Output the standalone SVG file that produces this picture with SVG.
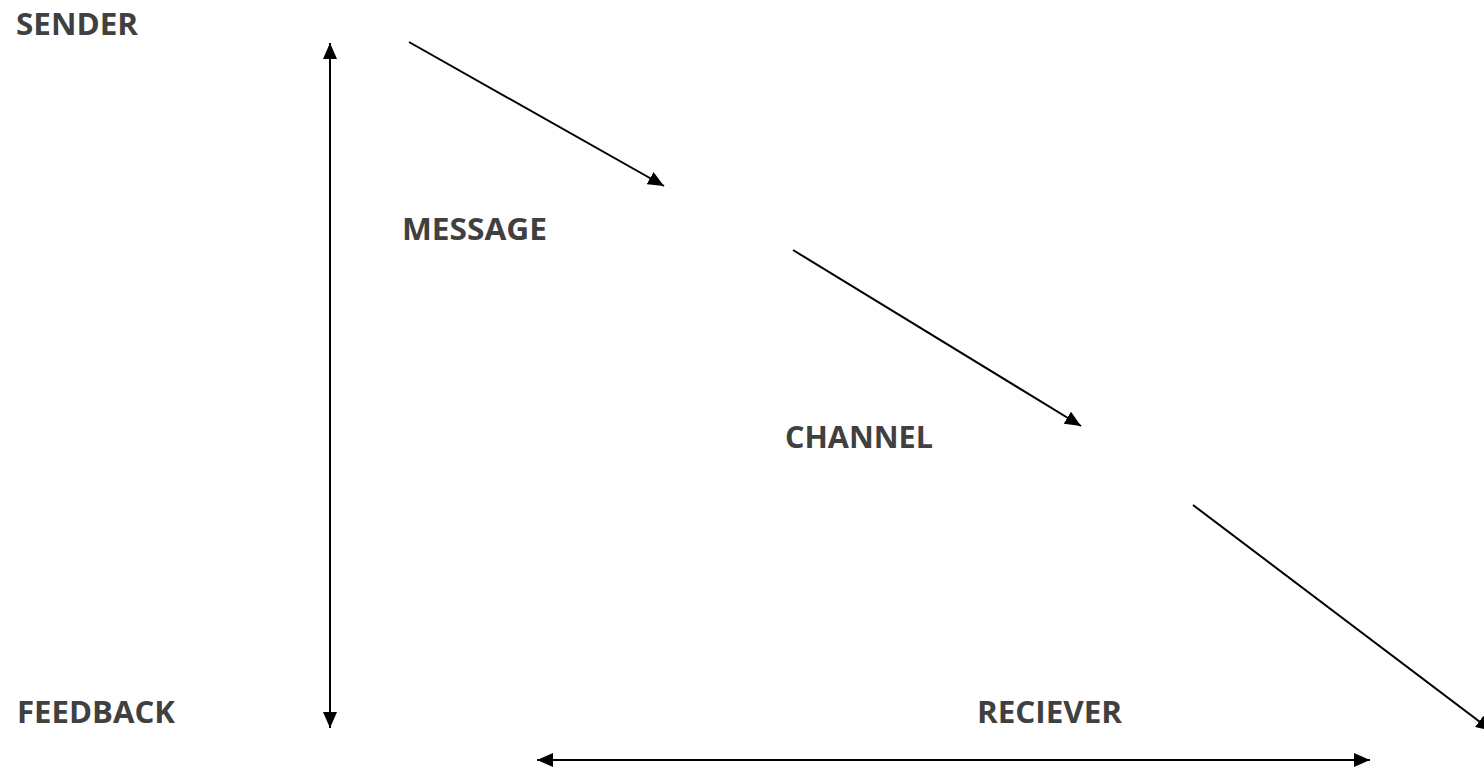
<svg xmlns="http://www.w3.org/2000/svg" width="1484" height="773" viewBox="0 0 1484 773">
<style>
.lbl{font-family:"Open Sans","Liberation Sans",sans-serif;font-weight:bold;font-size:30px;fill:#404040}
.ln{stroke:#000;stroke-width:2;fill:none}
</style>
<defs>
<marker id="ah" viewBox="0 0 16 14" refX="16" refY="7" markerWidth="16" markerHeight="14" markerUnits="userSpaceOnUse" orient="auto-start-reverse">
<path d="M0,0 L16,7 L0,14 Z" fill="#000"/>
</marker>
</defs>
<rect width="1484" height="773" fill="#fff"/>
<g id="sender"><text class="lbl" x="16" y="35" textLength="122" lengthAdjust="spacingAndGlyphs">SENDER</text></g>
<g id="message"><text class="lbl" x="402" y="240" textLength="145" lengthAdjust="spacingAndGlyphs">MESSAGE</text></g>
<g id="channel"><text class="lbl" x="785" y="448" textLength="148" lengthAdjust="spacingAndGlyphs">CHANNEL</text></g>
<g id="feedback"><text class="lbl" x="17" y="723" textLength="158" lengthAdjust="spacingAndGlyphs">FEEDBACK</text></g>
<g id="reciever"><text class="lbl" x="977" y="723" textLength="145" lengthAdjust="spacingAndGlyphs">RECIEVER</text></g>
<g id="connectors">
<line class="ln" x1="330" y1="43" x2="330" y2="728" marker-start="url(#ah)" marker-end="url(#ah)"/>
<line class="ln" x1="409" y1="42" x2="664" y2="186" marker-end="url(#ah)"/>
<line class="ln" x1="793" y1="250" x2="1081" y2="426" marker-end="url(#ah)"/>
<line class="ln" x1="1193" y1="505" x2="1492" y2="731" marker-end="url(#ah)"/>
<line class="ln" x1="537" y1="760" x2="1370" y2="760" marker-start="url(#ah)" marker-end="url(#ah)"/>
</g>
</svg>
